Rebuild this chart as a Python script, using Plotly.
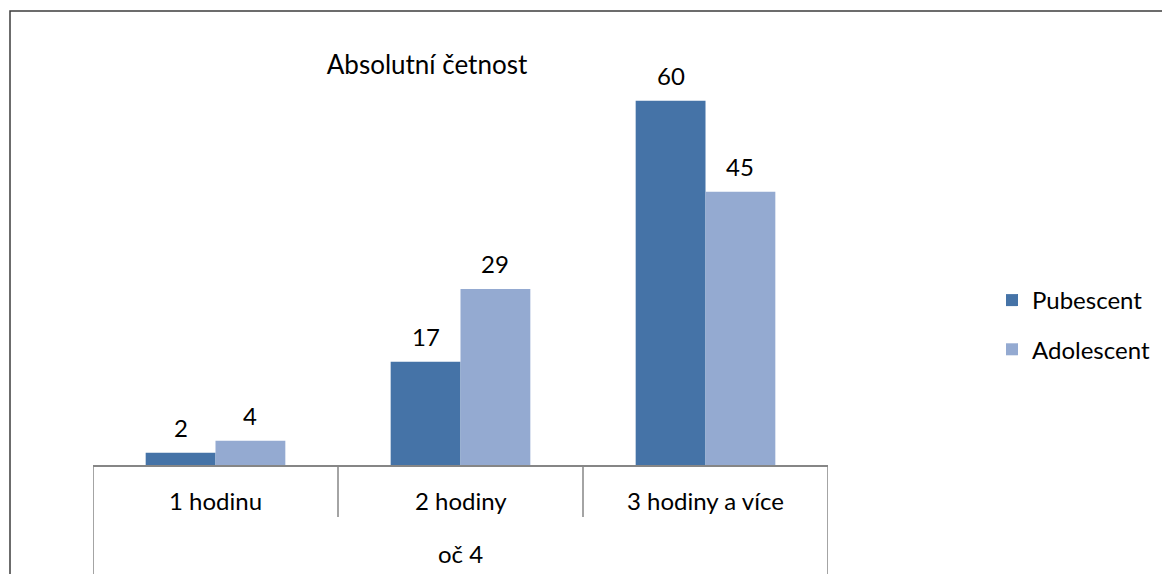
import plotly.graph_objects as go

categories = ["1 hodinu", "2 hodiny", "3 hodiny a více"]
group_label = "oč 4"
pubescent = [2, 17, 60]
adolescent = [4, 29, 45]
series_names = ["Pubescent", "Adolescent"]
colors = ["#4573A7", "#94AAD1"]
title_text = "Absolutní četnost"

FONT = "Lato, Noto Sans, sans-serif"
FS = 24
bargap = 0.43
OFF = 8  # default page body margin
W, H = 1162, 566
ml, mt = 93 - OFF, 40 - OFF
mr = W - (828 - OFF)
mb = H - (465 - OFF)
plot_h = H - mt - mb
plot_w = W - ml - mr


def px_x(sx):
    return (sx - OFF - ml) / plot_w


def px_y(sy):
    return (H - mb - (sy - OFF)) / plot_h


fig = go.Figure()
for name, vals, col in zip(series_names, [pubescent, adolescent], colors):
    fig.add_trace(go.Bar(
        x=categories, y=vals, name=name, marker_color=col,
        marker_line_width=0, legendgroup=name,
    ))

annotations = []
offs = (1 - bargap) / 4
for k, vals in enumerate([pubescent, adolescent]):
    sign = -1 if k == 0 else 1
    for i, v in enumerate(vals):
        annotations.append(dict(
            x=i + sign * offs, y=v, xref="x", yref="y", text=str(v),
            showarrow=False, yanchor="middle", yshift=25,
            font=dict(size=FS, color="#000000", family=FONT)))
for i, c in enumerate(categories):
    annotations.append(dict(
        x=i, y=0, xref="x", yref="y", text=c, showarrow=False,
        yanchor="middle", yshift=-35,
        font=dict(size=FS, color="#000000", family=FONT)))
annotations.append(dict(
    x=(len(categories) - 1) / 2, y=0, xref="x", yref="y", text=group_label,
    showarrow=False, yanchor="middle", yshift=-88,
    font=dict(size=FS, color="#000000", family=FONT)))

shapes = []
n = len(categories)
for j in range(n + 1):
    outer = j in (0, n)
    shapes.append(dict(
        type="line", xref="x", yref="paper", x0=j - 0.5, x1=j - 0.5,
        y0=0, y1=(-(mb + 5) / plot_h) if outer else (-52 / plot_h),
        line=dict(color="#868686", width=1.5)))
shapes.append(dict(
    type="rect", xref="paper", yref="paper",
    x0=px_x(10), x1=2.0, y0=-1.0, y1=px_y(11),
    line=dict(color="#3C3C3C", width=1.5), fillcolor="rgba(0,0,0,0)"))

fig.update_layout(
    width=W, height=H,
    margin=dict(l=ml, r=mr, t=mt, b=mb, pad=0),
    paper_bgcolor="white", plot_bgcolor="white",
    barmode="group", bargap=bargap, bargroupgap=0,
    font=dict(family=FONT, size=FS, color="#000000"),
    title=dict(text=title_text, x=(427 - OFF) / W, xanchor="center",
               y=1 - (65 - OFF) / H, yanchor="middle", yref="container",
               font=dict(size=26, family=FONT, color="#000000")),
    xaxis=dict(type="category", showticklabels=False, ticks="",
               showline=True, linecolor="#868686", linewidth=1.5,
               showgrid=False, zeroline=False, range=[-0.5, n - 0.5],
               fixedrange=True),
    yaxis=dict(range=[0, 70], visible=False, showgrid=False, zeroline=False),
    legend=dict(x=px_x(992), y=px_y(325), xanchor="left", yanchor="middle",
                traceorder="grouped", tracegroupgap=15,
                font=dict(size=FS, family=FONT),
                bgcolor="rgba(0,0,0,0)", itemwidth=30),
    annotations=annotations,
    shapes=shapes,
    showlegend=True,
)

fig.write_html("out.html")
